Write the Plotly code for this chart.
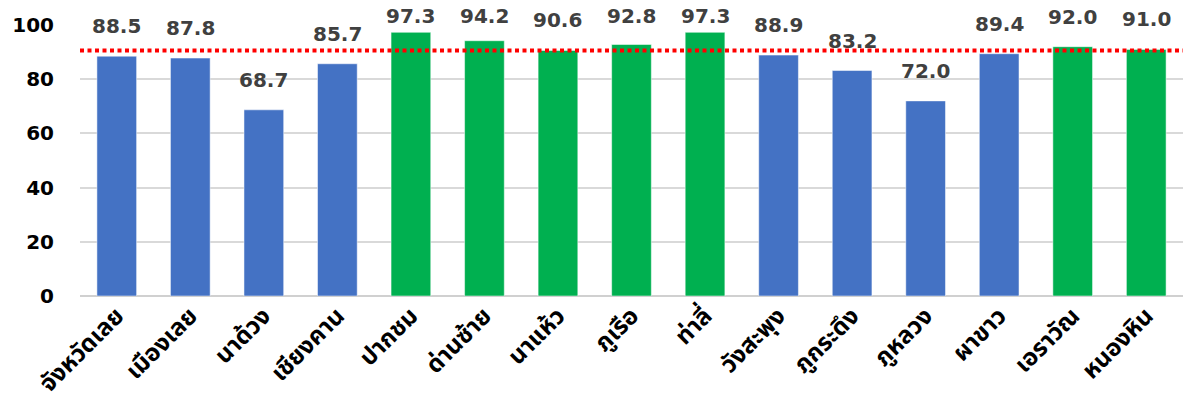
import plotly.graph_objects as go

# ข้อมูล
districts = ["จังหวัดเลย", "เมืองเลย", "นาด้วง", "เชียงคาน", "ปากชม", "ด่านซ้าย", "นาแห้ว",
             "ภูเรือ", "ท่าลี่", "วังสะพุง", "ภูกระดึง", "ภูหลวง", "ผาขาว", "เอราวัณ", "หนองหิน"]
values = [88.5, 87.8, 68.7, 85.7, 97.3, 94.2, 90.6, 92.8, 97.3, 88.9, 83.2, 72.0, 89.4, 92.0, 91.0]
bar_colors = ["#4472C4"] * 4 + ["#00B050"] * 5 + ["#4472C4"] * 4 + ["#00B050"] * 2
target = 90.6
y_ticks = [0, 20, 40, 60, 80, 100]

NUM_FONT = "DejaVu Sans, Noto Sans, sans-serif"
THAI_FONT = "DejaVu Sans, Noto Sans Thai, Noto Sans, sans-serif"

W, H = 1183, 410
M = dict(l=80, r=0, t=25, b=114)
px_per_unit = (H - M["t"] - M["b"]) / 100

fig = go.Figure(
    go.Bar(
        x=districts,
        y=values,
        marker_color=bar_colors,
        marker_line_color="rgba(255,255,255,0.5)",
        marker_line_width=1,
        hoverinfo="x+y",
    )
)

# ตัวเลขเหนือแท่ง (แท่งที่สูงมากถูกกดลงไม่ให้หลุดขอบบน)
for d, v in zip(districts, values):
    shift = min(30, (103.3 - v) * px_per_unit)
    fig.add_annotation(
        x=d, y=v, text=f"<b>{v:.1f}</b>", showarrow=False,
        yshift=shift, borderpad=0,
        font=dict(size=20, color="#404040", family=NUM_FONT),
    )

# เส้นเป้าหมาย
fig.add_hline(y=target, line=dict(color="#FF0000", width=4, dash="4px,3.5px"))

fig.update_yaxes(
    range=[0, 100],
    tickvals=y_ticks,
    ticktext=[f"<b>{t}</b>" for t in y_ticks],
    tickfont=dict(size=20, color="black", family=NUM_FONT),
    gridcolor="#D9D9D9",
    gridwidth=1.5,
    zeroline=True,
    zerolinecolor="#D0D0D0",
    zerolinewidth=2,
    ticklabelstandoff=25,
    automargin=False,
)
fig.update_xaxes(
    tickangle=-45,
    tickvals=districts,
    ticktext=[f"<b>{d}</b>" for d in districts],
    tickfont=dict(size=24, color="black", family=THAI_FONT),
    showgrid=False,
    automargin=False,
)
fig.update_layout(
    width=W,
    height=H,
    paper_bgcolor="white",
    plot_bgcolor="white",
    bargap=0.46,
    showlegend=False,
    margin=M,
)

# เอาขอบ body ของหน้า html ออก ให้รูปชิดมุมหน้าต่าง
fig.write_html(
    "out.html",
    config={"displayModeBar": False},
    post_script="document.body.style.margin='0';",
)
